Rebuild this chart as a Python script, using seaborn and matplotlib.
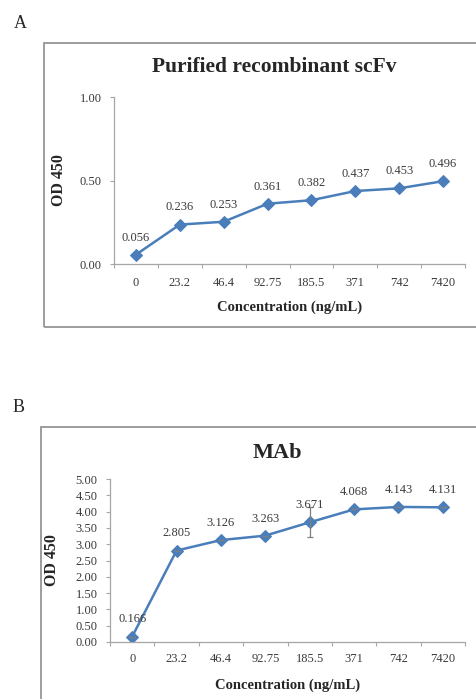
import matplotlib
matplotlib.use("Agg")
import matplotlib.pyplot as plt
import matplotlib.patches as mpatches
import numpy as np
import pandas as pd
import seaborn as sns

# data
concentrations = ["0", "23.2", "46.4", "92.75", "185.5", "371", "742", "7420"]
od_scfv = [0.056, 0.236, 0.253, 0.361, 0.382, 0.437, 0.453, 0.496]
od_mab = [0.166, 2.805, 3.126, 3.263, 3.671, 4.068, 4.143, 4.131]
err_mab = [0.0, 0.0, 0.0, 0.0, 0.46, 0.0, 0.0, 0.0]

sns.set_theme(style="white")
plt.rcParams['font.family'] = ['Liberation Serif', 'DejaVu Serif']

line_color = "#4a7ebb"
grey = "#a6a6a6"
text_grey = "#3a3a3a"

fig = plt.figure(figsize=(4.76, 6.99), dpi=100)

# panel frames and letters
fig.patches.append(mpatches.Rectangle((44 / 476, 1 - 327 / 699), 440 / 476, 284 / 699,
                                      transform=fig.transFigure, fill=False,
                                      edgecolor="#8c8c8c", linewidth=1.2))
fig.patches.append(mpatches.Rectangle((41 / 476, -0.05), 445 / 476, 1 - 427 / 699 + 0.05,
                                      transform=fig.transFigure, fill=False,
                                      edgecolor="#8c8c8c", linewidth=1.2))
fig.text(20 / 476, 1 - 23 / 699, "A", fontsize=13, ha="center", va="center")
fig.text(19 / 476, 1 - 408 / 699, "B", fontsize=13, ha="center", va="center")


def draw_panel(ax, values, yticks, err=None, xpad=10, xlabelpad=9):
    df = pd.DataFrame({"pos": np.arange(len(concentrations)), "od": values})
    sns.lineplot(data=df, x="pos", y="od", ax=ax, color=line_color, linewidth=1.8,
                 marker="D", markersize=6, markeredgecolor=line_color)
    if err is not None:
        ax.errorbar(df["pos"], df["od"], yerr=err, fmt="none", ecolor="#7f7f7f",
                    elinewidth=0.9, capsize=2.5, capthick=0.9)
    for x, y in zip(df["pos"], df["od"]):
        ax.annotate(f"{y}", (x, y), xytext=(0, 8), textcoords="offset points",
                    ha="center", va="bottom", fontsize=9, color=text_grey)
    ax.set_xlim(-0.5, len(concentrations) - 0.5)
    ax.set_ylim(yticks[0], yticks[-1])
    ax.set_yticks(yticks)
    ax.set_yticklabels([f"{t:.2f}" for t in yticks], fontsize=9, color=text_grey)
    # category boundaries carry the tick marks, labels sit in the middle
    ax.set_xticks(np.arange(-0.5, len(concentrations)), minor=False)
    ax.set_xticklabels([])
    ax.set_xticks(np.arange(len(concentrations)), minor=True)
    ax.set_xticklabels(concentrations, minor=True, fontsize=9, color=text_grey)
    ax.tick_params(axis="x", which="major", direction="out", length=3, width=0.8, color=grey, bottom=True)
    ax.tick_params(axis="x", which="minor", length=0, pad=xpad)
    ax.tick_params(axis="y", direction="out", length=3, width=0.8, color=grey, left=True, pad=6)
    for s in ["top", "right"]:
        ax.spines[s].set_visible(False)
    for s in ["left", "bottom"]:
        ax.spines[s].set_color(grey)
        ax.spines[s].set_linewidth(0.9)
    ax.set_xlabel("Concentration (ng/mL)", fontsize=10.5, fontweight="bold", labelpad=xlabelpad)
    ax.set_ylabel("OD 450", fontsize=11.5, fontweight="bold")
    ax.set_facecolor("white")


ax1 = fig.add_axes([114 / 476, 1 - 264 / 699, 351 / 476, 167 / 699])
draw_panel(ax1, od_scfv, [0.0, 0.5, 1.0], xpad=9, xlabelpad=9)
ax1.yaxis.set_label_coords((67 - 114) / 351, 0.5)
fig.text(274 / 476, 1 - 67 / 699, "Purified recombinant scFv", fontsize=15.5,
         fontweight="bold", ha="center", va="center")

ax2 = fig.add_axes([110 / 476, 1 - 642 / 699, 355 / 476, 163 / 699])
draw_panel(ax2, od_mab, list(np.arange(0, 5.01, 0.5)), err=err_mab, xpad=8, xlabelpad=10)
ax2.yaxis.set_label_coords((60 - 110) / 355, 0.5)
fig.text(277 / 476, 1 - 453 / 699, "MAb", fontsize=16,
         fontweight="bold", ha="center", va="center")

fig.savefig("out.png", dpi=100)
